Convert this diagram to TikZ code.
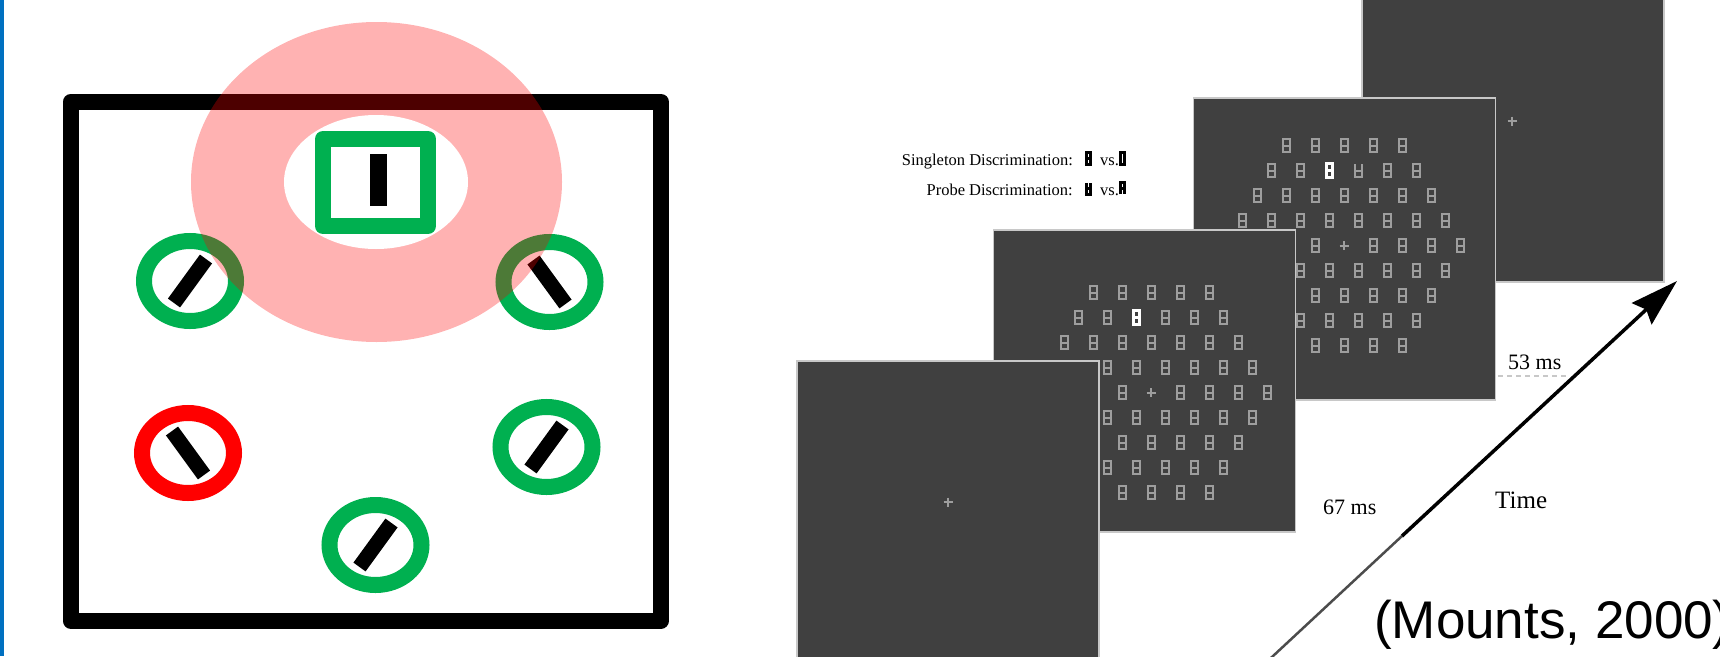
\documentclass[tikz,border=0pt]{standalone}
\usepackage{fontspec}
\setmainfont{Liberation Serif}
\newfontfamily\citefont{Liberation Sans}
\usetikzlibrary{arrows.meta,positioning}
\definecolor{slideblue}{RGB}{0, 112, 192}
\definecolor{ringgreen}{RGB}{0, 176, 80}
\definecolor{ringred}{RGB}{255, 0, 0}
\definecolor{screengray}{RGB}{64, 64, 64}
\definecolor{itemgray}{RGB}{158, 158, 158}
\definecolor{edgegray}{RGB}{200, 200, 200}

\tikzset{itemline/.style={draw=itemgray, line width=2pt}}

% search items round (x,y); the option is used for the legend copies
\newcommand{\eightitem}[3][]{\draw[itemline, shift={(#2,#3)}, #1] (-3.5,-6.5) rectangle (3.5,6.5) (-3.5,0) -- (3.5,0);}
\newcommand{\zeroitem}[3][]{\draw[itemline, shift={(#2,#3)}, #1] (-3.5,-6.5) rectangle (3.5,6.5);}
\newcommand{\probeitem}[3][]{\draw[itemline, shift={(#2,#3)}, #1] (-3.5,-6.5) -- (-3.5,6.5) -- (3.5,6.5) -- (3.5,-6.5) (-3.5,0) -- (3.5,0);}
\newcommand{\altitem}[3][]{\draw[itemline, shift={(#2,#3)}, #1] (-3.5,6.5) -- (-3.5,-6.5) -- (3.5,-6.5) -- (3.5,6.5) (-3.5,0) -- (3.5,0);}
\newcommand{\singleitem}[3][]{\draw[itemline, draw=white, line width=3pt, shift={(#2,#3)}, #1] (-3,-6.75) rectangle (3,6.75) (-3,0) -- (3,0);}
\newcommand{\crossitem}[3][]{\draw[itemline, shift={(#2,#3)}, #1] (-4.5,0) -- (4.5,0) (0,-4.5) -- (0,4.5);}

% hexagonal display round its centre (x,y), #3=1 puts in the probe
\newcommand{\searcharray}[3]{%
	\foreach \rowi in {-4,...,4} {
		\pgfmathtruncatemacro{\nitems}{9-abs(\rowi)}
		\foreach \coli in {1,...,\nitems} {
			\pgfmathsetmacro{\ix}{#1+(\coli-(\nitems+1)/2)*29}
			\pgfmathsetmacro{\iy}{#2+\rowi*25}
			\def\kind{eight}
			\ifnum\rowi=0 \ifnum\coli=5 \def\kind{cross}\fi\fi
			\ifnum\rowi=-3 \ifnum\coli=3 \def\kind{single}\fi\ifnum\coli=4 \ifnum#3=1 \def\kind{probe}\fi\fi\fi
			\csname\kind item\endcsname{\ix}{\iy}
		}
	}%
}

\begin{document}
\begin{tikzpicture}[x=1pt, y=-1pt,
	screen/.style={fill=screengray, draw=edgegray, line width=1.5pt, minimum size=302pt, inner sep=0pt},
	ring/.style={line width=16pt},
	tiltbar/.style={line width=15pt, black},
	legendtext/.style={inner sep=0pt, font=\fontsize{16.5}{18}\selectfont},
	legendglyph/.style={draw=black, line width=3pt, xscale=0.65, yscale=0.88},
	timing/.style={inner sep=0pt, anchor=base west, font=\fontsize{22}{24}\selectfont}]
	\useasboundingbox (0,0) rectangle (1720,656);

	% left half: the display with the attended region
	\fill[slideblue] (0,0) rectangle (3.5,656);
	\draw[line width=16pt, line join=round] (70.5,102) rectangle (661,620.5);
	\foreach \cx/\cy/\rc/\tilt in {190/281/ringgreen/1, 549.5/282/ringgreen/-1, 188/453/ringred/-1, 546.5/447/ringgreen/1, 375.5/545/ringgreen/1}
	{
		\draw[ring, draw=\rc] (\cx,\cy) ellipse [x radius=46, y radius=40];
		\draw[tiltbar] (\cx-16*\tilt,\cy+22) -- (\cx+16*\tilt,\cy-22);
	}
	\fill[ringred, fill opacity=0.3] (376.5,182) ellipse [x radius=185.5, y radius=160];
	\fill[white] (376,182) ellipse [x radius=92, y radius=67];
	\draw[ringgreen, line width=16pt, line join=round] (323,139) rectangle (428,226);
	\fill (370,154) rectangle (387,206);

	% right half: the trial sequence, back to front
	\node[screen] (p4) at (1513,131) {};
	\crossitem{1512}{121}
	\node[screen] (p3) at (1344.5,249) {};
	\searcharray{1344}{245.5}{1}
	\node[screen] (p2) at (1144.5,381) {};
	\searcharray{1151}{392.5}{0}
	\node[screen] (p1) at (948,512) {};
	\crossitem{948}{502}

	\node[legendtext, anchor=base east] (singtxt) at (1073,165) {Singleton Discrimination:};
	\node[legendtext, anchor=base east] (probetxt) at (1073,195) {Probe Discrimination:};
	\node[legendtext, anchor=base west] (vsa) at (1100,165) {vs.};
	\node[legendtext, anchor=base west] (vsb) at (1100,195) {vs.};
	\eightitem[legendglyph]{1088.5}{158.7}
	\zeroitem[legendglyph]{1122.5}{158.7}
	\probeitem[legendglyph]{1088.5}{188.7}
	\altitem[legendglyph]{1122.5}{188.7}

	\coordinate (tstart) at (1258,670);
	\coordinate (tbend) at (1402,536);
	\coordinate (ttip) at (1677,281);
	\coordinate (dasha) at (1498,376);
	\coordinate (dashb) at (1567,376);
	\draw[line width=2.5pt, black!70] (tstart) -- (tbend);
	\draw[line width=3.5pt, -{Stealth[length=48pt, width=29pt, inset=6pt]}] (tbend) -- (ttip);
	\draw[edgegray, line width=1.5pt, dash pattern=on 5pt off 4pt] (dasha) -- (dashb);

	\node[timing] (t53) at (1508,369) {53 ms};
	\node[timing] (t67) at (1323,514) {67 ms};
	\node[timing, font=\fontsize{25}{28}\selectfont] (ttime) at (1495,508) {Time};
	\node[inner sep=0pt, anchor=base west, font=\citefont\fontsize{53}{60}\selectfont] (cite) at (1374,638) {(Mounts, 2000)};
\end{tikzpicture}
\end{document}
